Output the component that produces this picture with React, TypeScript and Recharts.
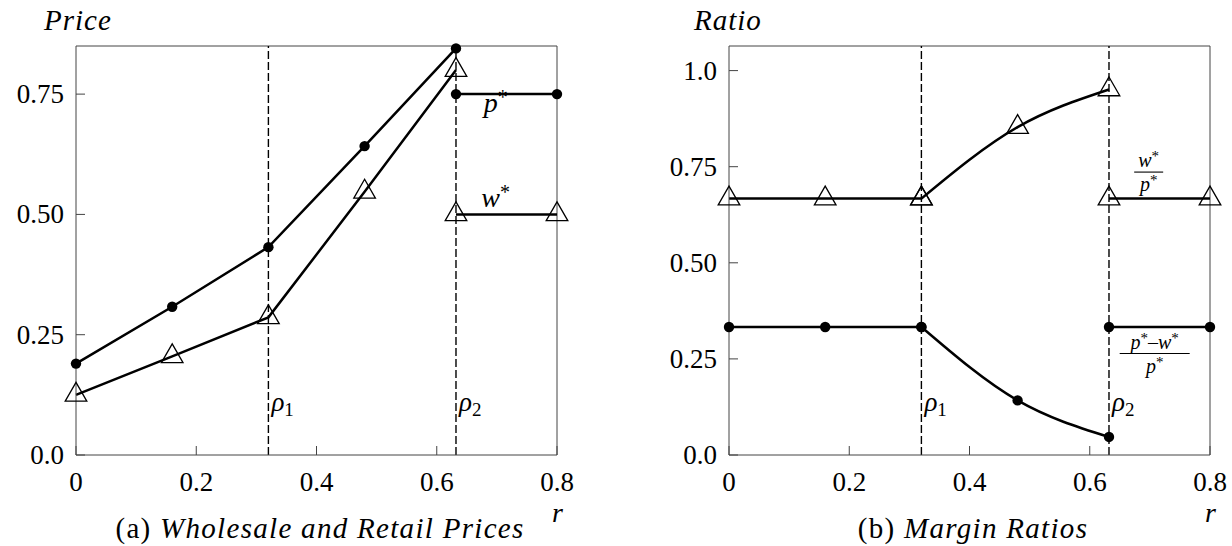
import React from "react";
import { LineChart, Line, XAxis, YAxis, ReferenceLine, ReferenceDot } from "recharts";

// r values where the markers sit
const rBefore = [0, 0.16, 0.32, 0.48, 0.632];
const rAfter = [0.632, 0.8];
const rFlat = [0, 0.16, 0.32];
const rCurve = [0.32, 0.48, 0.632];
const rhoValues = [0.32, 0.632];

// (a) prices
const pBefore = [0.19, 0.308, 0.432, 0.642, 0.845];
const wBefore = [0.125, 0.205, 0.286, 0.547, 0.8];
const pAfter = [0.75, 0.75];
const wAfter = [0.5, 0.5];

// (b) margin ratios
const wpFlat = [0.667, 0.667, 0.667];
const wpCurve = [0.667, 0.853, 0.951];
const wpAfter = [0.667, 0.667];
const marginFlat = [0.333, 0.333, 0.333];
const marginCurve = [0.333, 0.142, 0.047];
const marginAfter = [0.333, 0.333];

// ticks
const xTicks = [0, 0.2, 0.4, 0.6, 0.8];
const xTickLabels = ["0", "0.2", "0.4", "0.6", "0.8"];
const priceTicks = [0, 0.25, 0.5, 0.75];
const priceTickLabels = ["0.0", "0.25", "0.50", "0.75"];
const ratioTicks = [0, 0.25, 0.5, 0.75, 1.0];
const ratioTickLabels = ["0.0", "0.25", "0.50", "0.75", "1.0"];

const PRICE_MAX = 0.85;
const RATIO_MAX = 1.064;

const FONT = "Liberation Serif";
const AXIS = "#444";

const toPoints = (xs: number[], ys: number[]) => xs.map((x, i) => ({ x, y: ys[i] }));

const CircleDot = (props: any) => {
  const { cx, cy, index } = props;
  if (cx == null || cy == null) return null;
  return <circle key={`c${index}`} cx={cx} cy={cy} r={5.2} fill="#000" />;
};

const TriangleDot = (props: any) => {
  const { cx, cy, index } = props;
  if (cx == null || cy == null) return null;
  const pts = `${cx},${cy - 12.5} ${cx - 10.8},${cy + 6.3} ${cx + 10.8},${cy + 6.3}`;
  return <polygon key={`t${index}`} points={pts} fill="none" stroke="#000" strokeWidth={1.3} />;
};

const txt = (size: number, italic = false) => ({
  fontFamily: FONT,
  fontSize: size,
  fontStyle: italic ? "italic" : "normal",
});

const makeXTick = (labels: string[]) => (props: any) => {
  const { x, y, payload, index } = props;
  const i = xTicks.indexOf(payload.value);
  return (
    <g key={`xt${index}`}>
      <line x1={x} y1={y} x2={x} y2={y - 9} stroke={AXIS} strokeWidth={1} />
      <text x={x} y={y + 36} textAnchor="middle" fontFamily={FONT} style={txt(27)} fill="#000">
        {labels[i]}
      </text>
    </g>
  );
};

const makeYTick = (ticks: number[], labels: string[]) => (props: any) => {
  const { x, y, payload, index } = props;
  const i = ticks.indexOf(payload.value);
  return (
    <g key={`yt${index}`}>
      <line x1={x} y1={y} x2={x + 9} y2={y} stroke={AXIS} strokeWidth={1} />
      <text x={x - 12} y={y + 9} textAnchor="end" fontFamily={FONT} style={txt(27)} fill="#000">
        {labels[i]}
      </text>
    </g>
  );
};

const rhoLabel = (sub: string) => (props: any) => {
  const vb = props.viewBox || {};
  return (
    <text x={vb.x + 3} y={vb.y + vb.height - 44} fontFamily={FONT} style={txt(27)} fill="#000">
      <tspan style={txt(27, true)}>ρ</tspan>
      <tspan style={txt(19)} dy={5}>{sub}</tspan>
    </text>
  );
};

const StarLabel = (letter: string, dy: number) => (props: any) => (
  <text x={props.cx} y={props.cy + dy} textAnchor="middle" fontFamily={FONT} style={txt(28)} fill="#000">
    <tspan style={txt(28, true)}>{letter}</tspan>
    <tspan style={txt(20)} dy={-8}>*</tspan>
  </text>
);

const FracLabel = (num: React.ReactNode, barWidth: number) => (props: any) => {
  const { cx, cy } = props;
  return (
    <g>
      <text x={cx} y={cy - 5} textAnchor="middle" fontFamily={FONT} style={txt(20)} fill="#000">
        {num}
      </text>
      <line x1={cx - barWidth / 2} y1={cy} x2={cx + barWidth / 2} y2={cy} stroke="#000" strokeWidth={1.1} />
      <text x={cx} y={cy + 19} textAnchor="middle" fontFamily={FONT} style={txt(20)} fill="#000">
        <tspan style={txt(20, true)}>p</tspan>
        <tspan style={txt(15)} dy={-6}>*</tspan>
      </text>
    </g>
  );
};

const lineProps = {
  stroke: "#000",
  strokeWidth: 2.5,
  isAnimationActive: false,
  activeDot: false,
  dataKey: "y",
} as const;

function PricesChart() {
  return (
    <LineChart width={616} height={546} margin={{ top: 46, right: 59, bottom: 61, left: 16 }}>
      <XAxis
        type="number"
        dataKey="x"
        domain={[0, 0.8]}
        ticks={xTicks}
        height={30}
        tickSize={0}
        tickMargin={0}
        tickLine={false}
        axisLine={{ stroke: AXIS, strokeWidth: 1 }}
        tick={makeXTick(xTickLabels)}
      />
      <YAxis
        type="number"
        domain={[0, PRICE_MAX]}
        ticks={priceTicks}
        width={60}
        tickSize={0}
        tickMargin={0}
        tickLine={false}
        axisLine={{ stroke: AXIS, strokeWidth: 1 }}
        tick={makeYTick(priceTicks, priceTickLabels)}
      />
      <ReferenceLine y={PRICE_MAX} stroke={AXIS} strokeWidth={1} />
      <ReferenceLine x={0.8} stroke={AXIS} strokeWidth={1} />
      <ReferenceLine x={rhoValues[0]} stroke="#000" strokeWidth={1.4} strokeDasharray="8 3" label={rhoLabel("1")} />
      <ReferenceLine x={rhoValues[1]} stroke="#000" strokeWidth={1.4} strokeDasharray="8 3" label={rhoLabel("2")} />
      <Line {...lineProps} data={toPoints(rBefore, pBefore)} dot={CircleDot} />
      <Line {...lineProps} data={toPoints(rAfter, pAfter)} dot={CircleDot} />
      <Line {...lineProps} data={toPoints(rBefore, wBefore)} dot={TriangleDot} />
      <Line {...lineProps} data={toPoints(rAfter, wAfter)} dot={TriangleDot} />
      <ReferenceDot x={0.698} y={0.75} r={0} shape={StarLabel("p", 18)} />
      <ReferenceDot x={0.698} y={0.5} r={0} shape={StarLabel("w", -7)} />
    </LineChart>
  );
}

function RatiosChart() {
  return (
    <LineChart width={616} height={546} margin={{ top: 46, right: 22, bottom: 61, left: 53 }}>
      <XAxis
        type="number"
        dataKey="x"
        domain={[0, 0.8]}
        ticks={xTicks}
        height={30}
        tickSize={0}
        tickMargin={0}
        tickLine={false}
        axisLine={{ stroke: AXIS, strokeWidth: 1 }}
        tick={makeXTick(xTickLabels)}
      />
      <YAxis
        type="number"
        domain={[0, RATIO_MAX]}
        ticks={ratioTicks}
        width={60}
        tickSize={0}
        tickMargin={0}
        tickLine={false}
        axisLine={{ stroke: AXIS, strokeWidth: 1 }}
        tick={makeYTick(ratioTicks, ratioTickLabels)}
      />
      <ReferenceLine y={RATIO_MAX} stroke={AXIS} strokeWidth={1} />
      <ReferenceLine x={0.8} stroke={AXIS} strokeWidth={1} />
      <ReferenceLine x={rhoValues[0]} stroke="#000" strokeWidth={1.4} strokeDasharray="8 3" label={rhoLabel("1")} />
      <ReferenceLine x={rhoValues[1]} stroke="#000" strokeWidth={1.4} strokeDasharray="8 3" label={rhoLabel("2")} />
      <Line {...lineProps} data={toPoints(rFlat, wpFlat)} dot={TriangleDot} />
      <Line {...lineProps} type="monotone" data={toPoints(rCurve, wpCurve)} dot={TriangleDot} />
      <Line {...lineProps} data={toPoints(rAfter, wpAfter)} dot={TriangleDot} />
      <Line {...lineProps} data={toPoints(rFlat, marginFlat)} dot={CircleDot} />
      <Line {...lineProps} type="monotone" data={toPoints(rCurve, marginCurve)} dot={CircleDot} />
      <Line {...lineProps} data={toPoints(rAfter, marginAfter)} dot={CircleDot} />
      <ReferenceDot
        x={0.698}
        y={0.736}
        r={0}
        shape={FracLabel(
          <>
            <tspan style={txt(20, true)}>w</tspan>
            <tspan style={txt(15)} dy={-6}>*</tspan>
          </>,
          29
        )}
      />
      <ReferenceDot
        x={0.708}
        y={0.264}
        r={0}
        shape={FracLabel(
          <>
            <tspan style={txt(20, true)}>p</tspan>
            <tspan style={txt(15)} dy={-6}>*</tspan>
            <tspan style={txt(20)} dy={6}>–</tspan>
            <tspan style={txt(20, true)}>w</tspan>
            <tspan style={txt(15)} dy={-6}>*</tspan>
          </>,
          70
        )}
      />
    </LineChart>
  );
}

const divText = (size: number, italic = false): React.CSSProperties => ({
  position: "absolute",
  fontFamily: FONT,
  fontSize: size,
  fontStyle: italic ? "italic" : "normal",
  whiteSpace: "nowrap",
});

export default function App() {
  return (
    <div style={{ position: "absolute", left: 0, top: 0, width: 1232, height: 546, background: "#fff" }}>
      <div style={{ position: "absolute", left: 0, top: 0 }}>
        <PricesChart />
      </div>
      <div style={{ position: "absolute", left: 616, top: 0 }}>
        <RatiosChart />
      </div>
      {/* axis titles and captions */}
      <div style={{ ...divText(29, true), left: 44, top: 4, letterSpacing: 1 }}>Price</div>
      <div style={{ ...divText(29, true), left: 694, top: 4, letterSpacing: 1 }}>Ratio</div>
      <div style={{ ...divText(28, true), left: 552, top: 497 }}>r</div>
      <div style={{ ...divText(28, true), left: 1205, top: 497 }}>r</div>
      <div style={{ ...divText(29), left: 0, width: 640, top: 512, textAlign: "center", letterSpacing: 1.3 }}>
        (a) <i style={{ fontFamily: FONT }}>Wholesale and Retail Prices</i>
      </div>
      <div style={{ ...divText(29), left: 653, width: 640, top: 512, textAlign: "center", letterSpacing: 1.3 }}>
        (b) <i style={{ fontFamily: FONT }}>Margin Ratios</i>
      </div>
    </div>
  );
}
